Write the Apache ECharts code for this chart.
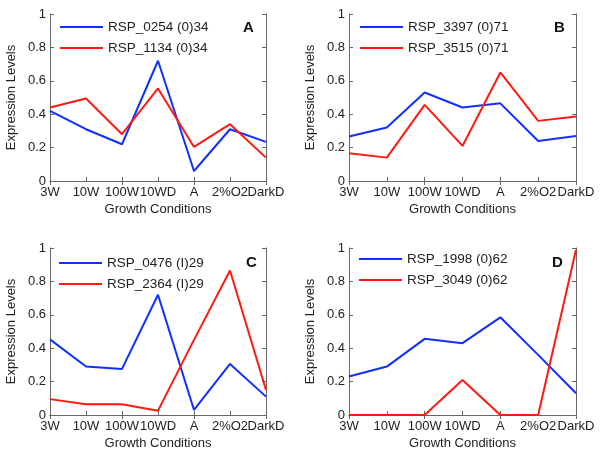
<!DOCTYPE html>
<html><head><meta charset="utf-8">
<script src="https://cdn.jsdelivr.net/npm/echarts@6/dist/echarts.min.js"></script>
<style>html,body{margin:0;padding:0;background:#fff}#c{width:600px;height:455px}</style>
</head><body><div id="c"></div>
<script>
const categories = ['3W', '10W', '100W', '10WD', 'A', '2%O2', 'DarkD'];
const yMin = 0, yMax = 1, yStep = 0.2;

const namesA = ['RSP_0254 (0)34', 'RSP_1134 (0)34'];
const blueA = [0.42, 0.31, 0.22, 0.72, 0.06, 0.31, 0.234];
const redA  = [0.44, 0.494, 0.28, 0.554, 0.204, 0.34, 0.14];

const namesB = ['RSP_3397 (0)71', 'RSP_3515 (0)71'];
const blueB = [0.266, 0.32, 0.53, 0.44, 0.465, 0.24, 0.27];
const redB  = [0.166, 0.14, 0.456, 0.21, 0.65, 0.36, 0.386];

const namesC = ['RSP_0476 (I)29', 'RSP_2364 (I)29'];
const blueC = [0.453, 0.29, 0.276, 0.72, 0.03, 0.306, 0.11];
const redC  = [0.095, 0.064, 0.064, 0.026, 0.45, 0.865, 0.15];

const namesD = ['RSP_1998 (0)62', 'RSP_3049 (0)62'];
const blueD = [0.23, 0.29, 0.456, 0.43, 0.585, 0.36, 0.13];
const redD  = [0.0, 0.0, 0.0, 0.21, 0.0, 0.0, 0.99];

const panelLetters = ['A', 'B', 'C', 'D'];

const FONT = '"Liberation Sans", Arial, Helvetica, sans-serif';
const TXT = '#222';
const AX = '#666';
const BLUE = '#1030ff';
const RED = '#ff1a10';

const panels = [
  {names: namesA, blue: blueA, red: redA, grid: {left: 50, top: 14, width: 216, height: 167}, legend: {left: 60, top: 20}, letter: {left: 243, top: 20}},
  {names: namesB, blue: blueB, red: redB, grid: {left: 349, top: 14, width: 227, height: 167}, legend: {left: 360, top: 20}, letter: {left: 554, top: 20}},
  {names: namesC, blue: blueC, red: redC, grid: {left: 50, top: 248, width: 216, height: 167}, legend: {left: 59, top: 256}, letter: {left: 246, top: 255}},
  {names: namesD, blue: blueD, red: redD, grid: {left: 349, top: 248, width: 227, height: 167}, legend: {left: 359, top: 252}, letter: {left: 552, top: 255}}
];

const grid = [], xAxis = [], yAxis = [], series = [], legend = [], title = [];
panels.forEach((p, i) => {
  grid.push(Object.assign({containLabel: false}, p.grid));
  xAxis.push({
    type: 'category', gridIndex: i, data: categories, boundaryGap: false, position: 'bottom',
    axisLine: {lineStyle: {color: AX, width: 1}},
    axisTick: {inside: true, length: 4, alignWithLabel: true, lineStyle: {color: AX}},
    axisLabel: {interval: 0, color: TXT, fontFamily: FONT, fontSize: 13, margin: 5},
    name: 'Growth Conditions', nameLocation: 'middle', nameGap: 22,
    nameTextStyle: {color: TXT, fontFamily: FONT, fontSize: 13},
    splitLine: {show: false}
  });
  xAxis.push({
    type: 'category', gridIndex: i, data: categories, boundaryGap: false, position: 'top',
    axisLine: {lineStyle: {color: AX, width: 1}},
    axisTick: {inside: true, length: 4, lineStyle: {color: AX}},
    axisLabel: {show: false}, splitLine: {show: false}
  });
  yAxis.push({
    type: 'value', gridIndex: i, min: yMin, max: yMax, interval: yStep, position: 'left',
    axisLine: {show: true, lineStyle: {color: AX, width: 1}},
    axisTick: {show: true, inside: true, length: 4, lineStyle: {color: AX}},
    axisLabel: {color: TXT, fontFamily: FONT, fontSize: 13, margin: 4},
    name: 'Expression Levels', nameLocation: 'middle', nameGap: 32, nameRotate: 90,
    nameTextStyle: {color: TXT, fontFamily: FONT, fontSize: 13},
    splitLine: {show: false}
  });
  yAxis.push({
    type: 'value', gridIndex: i, min: yMin, max: yMax, interval: yStep, position: 'right',
    axisLine: {show: true, lineStyle: {color: AX, width: 1}},
    axisTick: {show: true, inside: true, length: 4, lineStyle: {color: AX}},
    axisLabel: {show: false}, splitLine: {show: false}
  });
  series.push({
    type: 'line', name: p.names[0], xAxisIndex: 2 * i, yAxisIndex: 2 * i, data: p.blue,
    symbol: 'none', lineStyle: {color: BLUE, width: 2}, itemStyle: {color: BLUE}, z: 3
  });
  series.push({
    type: 'line', name: p.names[1], xAxisIndex: 2 * i, yAxisIndex: 2 * i, data: p.red,
    symbol: 'none', lineStyle: {color: RED, width: 2}, itemStyle: {color: RED}, z: 4
  });
  legend.push({
    data: p.names, orient: 'vertical', left: p.legend.left, top: p.legend.top,
    padding: 0, itemGap: 7, itemWidth: 43, itemHeight: 2, icon: 'rect',
    textStyle: {color: TXT, fontFamily: FONT, fontSize: 13.5, lineHeight: 14, padding: [0, 0, 0, 0]},
    selectedMode: false
  });
  title.push({
    text: panelLetters[i], left: p.letter.left, top: p.letter.top, padding: 0,
    textStyle: {color: '#111', fontFamily: FONT, fontSize: 15, fontWeight: 'bold'}
  });
});

const chart = echarts.init(document.getElementById('c'), null, {renderer: 'canvas'});
chart.setOption({
  backgroundColor: '#fff', animation: false,
  grid, xAxis, yAxis, series, legend, title
});
</script>
</body></html>
